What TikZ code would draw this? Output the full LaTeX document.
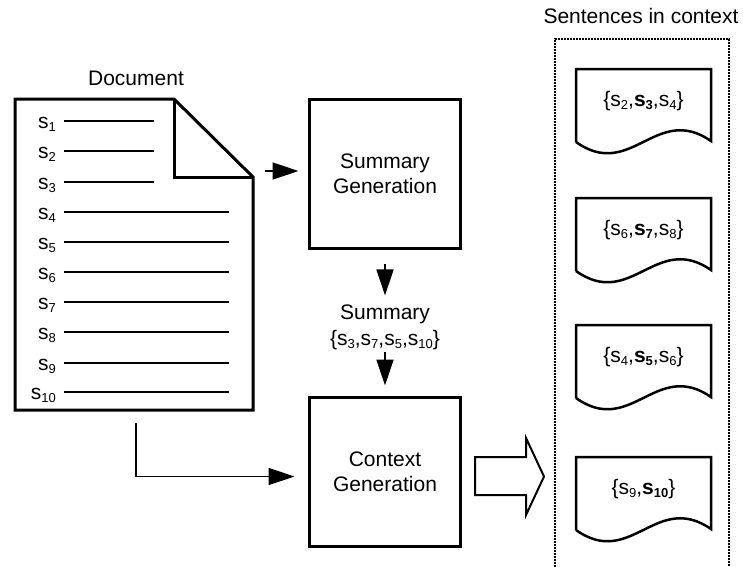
\documentclass[tikz,border=0pt]{standalone}
\usepackage{fontspec}
\setmainfont{Liberation Sans}
\usetikzlibrary{arrows.meta}
% lowered small digits for sentence indices
\newcommand\sbs[1]{\raisebox{-3pt}{\fontsize{13}{13}\selectfont #1}}
\begin{document}
\begin{tikzpicture}[x=1pt,y=-1pt,
  every node/.style={font=\fontsize{21}{25}\selectfont, inner sep=0pt},
  procbox/.style={draw, line width=3pt, minimum width=151pt, minimum height=149pt, align=center},
  arr/.style={line width=1.7pt, -{Triangle[length=26pt,width=17pt]}},
  docline/.style={line width=2pt},
  slabel/.style={anchor=base east},
  sentdoc/.style={line width=2.5pt, line join=miter},
]
\useasboundingbox (0,0) rectangle (743,566);

% source document with folded corner
\node[anchor=base] (doctitle) at (136,85) {Document};
\draw[line width=3pt, line join=miter] (15,99) -- (174,99) -- (253,177) -- (253,410) -- (15,410) -- cycle;
\draw[line width=3pt, line join=miter] (174,99) -- (174,177) -- (253,177);
\foreach \i/\y/\xe in {1/121/154, 2/151/154, 3/182/154, 4/212/229, 5/242/229,
                       6/272/229, 7/302/229, 8/332/229, 9/363/229, 10/392/229} {
  \draw[docline] (64,\y) -- (\xe,\y);
  \node[slabel] (s\i) at (56,\y+7) {s\sbs{\i}};
}
\coordinate (docR) at (253,171);
\coordinate (docB) at (136,410);

% processing steps
\node[procbox] (sumbox) at (385,174) {Summary\\Generation};
\node[procbox] (ctxbox) at (385,472) {Context\\Generation};

\node[anchor=base] (sumlab) at (385,319) {Summary};
\node[anchor=base] (sumset) at (385,345) {\{s\sbs{3},s\sbs{7},s\sbs{5},s\sbs{10}\}};

\draw[arr, shorten <=12pt, shorten >=9.5pt] (docR) -- (docR -| sumbox.west);
\draw[arr, shorten <=13.5pt, shorten >=8.7pt] (sumbox.south) -- (sumlab.north);
\draw[arr, shorten <=2.6pt, shorten >=10.5pt] (sumset.south) -- (ctxbox.north);
\draw[arr, shorten <=13pt, shorten >=13.5pt] (docB) |- ([yshift=-4.5pt]ctxbox.west);

% output arrow
\draw[line width=2pt, line join=miter] (475,457) -- (526,457) -- (526,438) -- (544,476.5)
  -- (526,515) -- (526,495) -- (475,495) -- cycle;

% output column
\node[anchor=base] (outtitle) at (641,23) {Sentences in context};
\draw[line width=2pt, dash pattern=on 1.6pt off 1.4pt] (555,570) -- (555,39) -- (729,39) -- (729,570);
\foreach \t/\txt [count=\k] in {
    69/{\{s\sbs{2},\textbf{s\sbs{3}},s\sbs{4}\}},
    198/{\{s\sbs{6},\textbf{s\sbs{7}},s\sbs{8}\}},
    325/{\{s\sbs{4},\textbf{s\sbs{5}},s\sbs{6}\}},
    457/{\{s\sbs{9},\textbf{s\sbs{10}}\}}} {
  \draw[sentdoc] (576,\t+73) -- (576,\t) -- (711,\t) -- (711,\t+72)
    .. controls (656,\t+34) and (631,\t+112) .. (576,\t+73);
  \node[anchor=base] (sent\k) at (643.5,\t+37) {\txt};
}
\end{tikzpicture}
\end{document}
